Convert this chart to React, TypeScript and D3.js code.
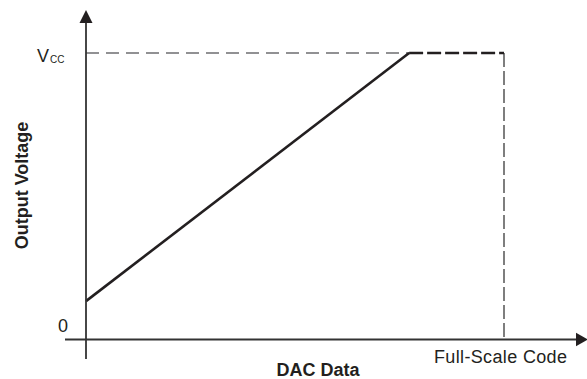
import React from "react";
import * as d3 from "d3";

// Transfer characteristic (normalised: code 0..1 = full scale, voltage 0..1 = Vcc)
const rampCode = [0, 0.773];
const rampVoltage = [0.134, 1];
const clipCode = [0.773, 1];
const clipVoltage = [1, 1];
const vccRefCode = [0, 0.773];
const fullScaleCode = 1;
const vccLevel = 1;
const xAxisTitle = "DAC Data";
const yAxisTitle = "Output Voltage";
const xTickLabel = "Full-Scale Code";
const yTickZero = "0";

const W = 587;
const H = 379;

export default function App() {
  const x = d3.scaleLinear().domain([0, 1]).range([86, 504]);
  const y = d3.scaleLinear().domain([0, 1]).range([339.5, 53]);
  const line = d3
    .line<[number, number]>()
    .x((d) => x(d[0]))
    .y((d) => y(d[1]));

  const ramp = rampCode.map((c, i) => [c, rampVoltage[i]] as [number, number]);
  const clip = clipCode.map((c, i) => [c, clipVoltage[i]] as [number, number]);
  const vccRef = vccRefCode.map((c) => [c, vccLevel] as [number, number]);
  const fsLine: [number, number][] = [
    [fullScaleCode, vccLevel],
    [fullScaleCode, 0],
  ];

  const x0 = x(0);
  const y0 = y(0);
  const font = "Liberation Sans, Arial, Helvetica, sans-serif";
  const ink = "#231f20";

  return (
    <svg
      width={W}
      height={H}
      style={{ position: "absolute", left: 0, top: 0, background: "#fff" }}
      fontFamily={font}
    >
      {/* Vcc reference dashed line */}
      <path d={line(vccRef) || ""} fill="none" stroke="#6d6e70" strokeWidth={1.6} strokeDasharray="13 7" />
      {/* full-scale vertical dashed */}
      <path d={line(fsLine) || ""} fill="none" stroke="#3a3a3a" strokeWidth={1.3} strokeDasharray="14 4" />
      {/* clipping region (heavy dashed) */}
      <path d={line(clip) || ""} fill="none" stroke={ink} strokeWidth={2.6} strokeDasharray="14 4" />
      {/* ramp */}
      <path d={line(ramp) || ""} fill="none" stroke={ink} strokeWidth={2.6} strokeLinejoin="miter" />

      {/* axes */}
      <line x1={x0} x2={x0} y1={359} y2={20} stroke="#333" strokeWidth={1.8} />
      <path d={`M${x0},10 L${x0 - 6.5},23 L${x0 + 6.5},23 Z`} fill={ink} />
      <line x1={65} x2={580} y1={y0} y2={y0} stroke="#333" strokeWidth={1.8} />
      <path d={`M588,${y0} L576,${y0 - 6.8} L576,${y0 + 6.8} Z`} fill={ink} />

      {/* tick labels */}
      <text x={37} y={62} fontSize={18} fill={ink}>V</text>
      <text x={50} y={63} fontSize={10} fill={ink}>CC</text>
      <text x={63} y={332} fontSize={18} fill={ink} textAnchor="middle">{yTickZero}</text>
      <text x={500.5} y={362.5} fontSize={18} fill={ink} textAnchor="middle" textLength={133}>
        {xTickLabel}
      </text>

      {/* axis titles */}
      <text x={318} y={376} fontSize={18} fontWeight="bold" fill={ink} textAnchor="middle">
        {xAxisTitle}
      </text>
      <text
        transform="translate(28,185.5) rotate(-90)"
        fontSize={18}
        fontWeight="bold"
        fill={ink}
        textAnchor="middle"
      >
        {yAxisTitle}
      </text>
    </svg>
  );
}
